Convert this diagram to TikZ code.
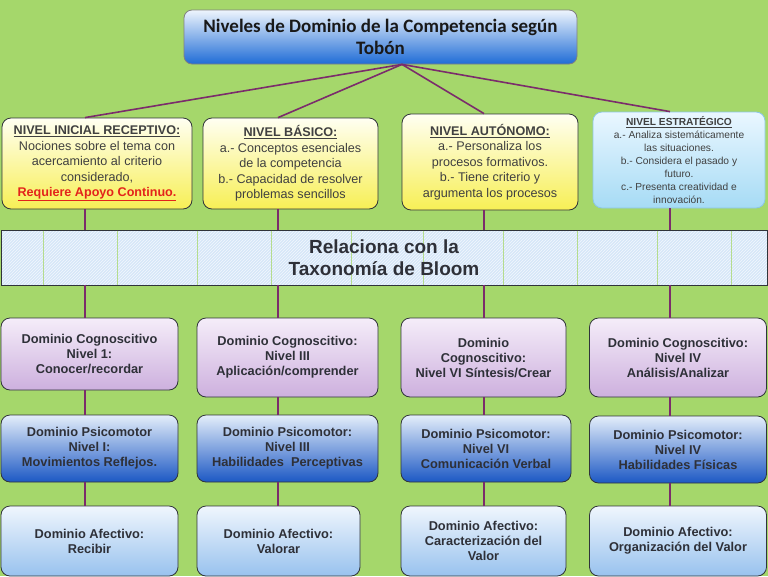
\documentclass[tikz,border=0pt]{standalone}
\usepackage{fontspec}
\setmainfont{Liberation Sans}
\newfontfamily\titlefont{Carlito}
\usetikzlibrary{patterns}
\definecolor{FondoVerde}{HTML}{A5D76B}
\definecolor{LineaMorada}{HTML}{7B2C6B}
\definecolor{BordeOscuro}{HTML}{30343A}
\definecolor{TextoGris}{HTML}{404040}
\definecolor{TextoOscuro}{HTML}{2E3038}
\definecolor{AlertaRoja}{HTML}{E3231B}
\definecolor{TituloClaro}{HTML}{EEF5FD}
\definecolor{TituloAzul}{HTML}{1F6CD6}
\definecolor{AmarilloClaro}{HTML}{FFFFF2}
\definecolor{Amarillo}{HTML}{F7EF55}
\definecolor{CelesteClaro}{HTML}{EAF7FF}
\definecolor{Celeste}{HTML}{A6DBF5}
\definecolor{CelesteBorde}{HTML}{8CC6E6}
\definecolor{LilaClaro}{HTML}{F5EDF9}
\definecolor{Lila}{HTML}{CDB0DE}
\definecolor{AzulClaro}{HTML}{E4EEFA}
\definecolor{AzulFuerte}{HTML}{1C58C4}
\definecolor{AfectClaro}{HTML}{F0F6FD}
\definecolor{Afect}{HTML}{98C2EE}
\definecolor{BandaAzul}{HTML}{D6E7F8}
\definecolor{RayaVerde}{HTML}{B5DC8E}

\tikzset{
  box/.style={draw=BordeOscuro, line width=0.8pt, rounded corners=9pt, align=center, inner sep=2pt},
  nivel/.style={box, top color=AmarilloClaro, bottom color=Amarillo, text=TextoGris, font=\fontsize{12.6}{15.5}\selectfont},
  estrat/.style={box, draw=CelesteBorde, top color=CelesteClaro, bottom color=Celeste, text=TextoGris, font=\fontsize{10.2}{13}\selectfont},
  cogbox/.style={box, top color=LilaClaro, bottom color=Lila, text=TextoOscuro, font=\bfseries\fontsize{12.8}{15}\selectfont},
  psibox/.style={box, top color=AzulClaro, bottom color=AzulFuerte, text=TextoOscuro, font=\bfseries\fontsize{12.8}{15}\selectfont},
  afebox/.style={box, top color=AfectClaro, bottom color=Afect, text=TextoOscuro, font=\bfseries\fontsize{12.8}{15}\selectfont},
  link/.style={draw=LineaMorada, line width=1.6pt},
  bandrule/.style={draw=RayaVerde, line width=0.8pt}
}

\begin{document}
\begin{tikzpicture}[x=1pt,y=-1pt]
  \fill[FondoVerde] (0,0) rectangle (768,576);
  \useasboundingbox (0,0) rectangle (768,576);

  \node[box, draw=gray, rounded corners=8pt, top color=TituloClaro, bottom color=TituloAzul,
        minimum width=393pt, minimum height=54pt, text=black!90,
        font=\titlefont\bfseries\fontsize{19}{22.5}\selectfont] (title) at (380.5,37)
    {Niveles de Dominio de la Competencia según\\Tobón};

  \node[nivel, minimum width=190pt, minimum height=91pt] (inicial) at (97,163.5)
    {\underline{\textbf{NIVEL INICIAL RECEPTIVO:}}\\Nociones sobre el tema con\\acercamiento al criterio\\considerado,\\
     \textcolor{AlertaRoja}{\underline{\textbf{Requiere Apoyo Continuo.}}}};
  \node[nivel, minimum width=175pt, minimum height=91pt] (basico) at (290.5,163.5)
    {\underline{\textbf{NIVEL BÁSICO:}}\\a.- Conceptos esenciales\\de la competencia\\b.- Capacidad de resolver\\problemas sencillos};
  \node[nivel, minimum width=176pt, minimum height=96pt] (autonomo) at (490,162)
    {\underline{\textbf{NIVEL AUTÓNOMO:}}\\a.- Personaliza los\\procesos formativos.\\b.- Tiene criterio y\\argumenta los procesos};
  \node[estrat, minimum width=172pt, minimum height=96pt] (estrategico) at (679,160)
    {\underline{\textbf{NIVEL ESTRATÉGICO}}\\a.- Analiza sistemáticamente\\las situaciones.\\b.- Considera el pasado y\\futuro.\\c.- Presenta creatividad e\\innovación.};

  \node[draw=BordeOscuro, line width=0.8pt, preaction={fill=BandaAzul},
        pattern=north east lines, pattern color=white!70!BandaAzul,
        minimum width=766pt, minimum height=55pt] (bloom) at (384,257.5) {};
  \foreach \gx in {43,117,197,271,351,423,503,577,657,731}
    \draw[bandrule] (\gx,230.5) -- (\gx,284.5);
  \node[align=center, text=TextoOscuro, font=\bfseries\fontsize{19}{22}\selectfont] (bloomtext) at (bloom.center)
    {Relaciona con la\\Taxonomía de Bloom};

  \foreach \i/\x/\y/\w/\h/\t in {
      1/89.5/354/177/72/{Dominio Cognoscitivo\\Nivel 1:\\Conocer/recordar},
      2/287.5/357.5/181/79/{Dominio Cognoscitivo:\\Nivel III\\Aplicación/comprender},
      3/483.5/357.5/165/79/{Dominio\\Cognoscitivo:\\Nivel VI Síntesis/Crear},
      4/678/357.5/177/79/{Dominio Cognoscitivo:\\Nivel IV\\Análisis/Analizar}}
    \node[cogbox, minimum width=\w pt, minimum height=\h pt] (cog\i) at (\x,\y) {\t};

  \foreach \i/\x/\y/\w/\t in {
      1/89.5/448.5/177/{Dominio Psicomotor\\Nivel I:\\Movimientos Reflejos.},
      2/287.5/448.5/181/{Dominio Psicomotor:\\Nivel III\\Habilidades\ \ Perceptivas},
      3/486/448.5/170/{Dominio Psicomotor:\\Nivel VI\\Comunicación Verbal},
      4/678/449.5/177/{Dominio Psicomotor:\\Nivel IV\\Habilidades Físicas}}
    \node[psibox, minimum width=\w pt, minimum height=67pt] (psi\i) at (\x,\y) {\t};

  \foreach \i/\x/\w/\t in {
      1/89.5/177/{Dominio Afectivo:\\Recibir},
      2/278.5/163/{Dominio Afectivo:\\Valorar},
      3/483.5/165/{Dominio Afectivo:\\Caracterización del\\Valor},
      4/678/177/{Dominio Afectivo:\\Organización del Valor}}
    \node[afebox, minimum width=\w pt, minimum height=70pt] (afe\i) at (\x,541) {\t};

  \coordinate (col1) at (85,0);
  \coordinate (col2) at (278,0);
  \coordinate (col3) at (484,0);
  \coordinate (col4) at (670,0);

  \foreach \lv/\c in {inicial/1, basico/2, autonomo/3, estrategico/4} {
    \draw[link] ([xshift=21.5pt]title.south) -- (col\c |- \lv.north);
    \draw[link] (col\c |- \lv.south) -- (col\c |- bloom.north);
    \draw[link] (col\c |- bloom.south) -- (col\c |- cog\c.north);
    \draw[link] (col\c |- cog\c.south) -- (col\c |- psi\c.north);
    \draw[link] (col\c |- psi\c.south) -- (col\c |- afe\c.north);
  }
\end{tikzpicture}
\end{document}
